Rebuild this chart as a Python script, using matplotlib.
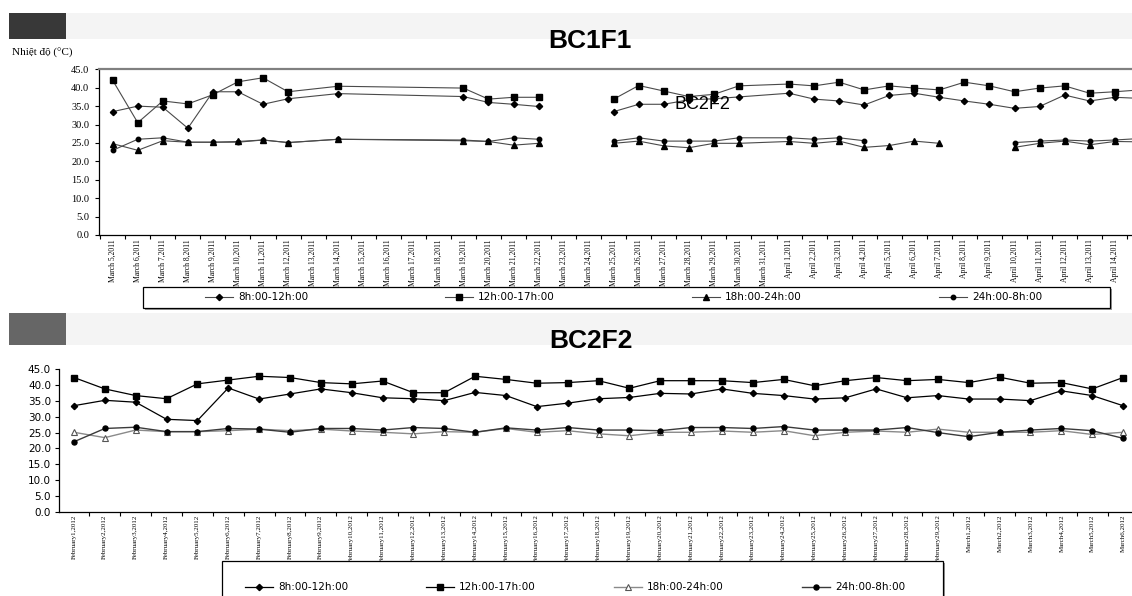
import matplotlib
matplotlib.use("Agg")
import matplotlib.pyplot as plt
import numpy as np
import pandas as pd
from matplotlib.patches import Rectangle
from matplotlib.ticker import FixedLocator, NullFormatter, FixedFormatter

# ---------------- data ----------------
top_title = "BC1F1"
bottom_title = "BC2F2"
y_label = "Nhiệt độ (°C)"
stray_text = "BC2F2"
series_names = ["8h:00-12h:00", "12h:00-17h:00", "18h:00-24h:00", "24h:00-8h:00"]

# top chart: axis covers every day, data rows only on these dates (None = blank cell)
top_axis_start, top_axis_end = "2011-03-05", "2011-04-15"
top_rows = ["2011-03-05", "2011-03-06", "2011-03-07", "2011-03-08", "2011-03-09",
            "2011-03-10", "2011-03-11", "2011-03-12", "2011-03-14", "2011-03-19",
            "2011-03-20", "2011-03-21", "2011-03-22", "2011-03-23", "2011-03-24",
            "2011-03-25", "2011-03-26", "2011-03-27", "2011-03-28", "2011-03-29",
            "2011-03-30", "2011-04-01", "2011-04-02", "2011-04-03", "2011-04-04",
            "2011-04-05", "2011-04-06", "2011-04-07", "2011-04-08", "2011-04-09",
            "2011-04-10", "2011-04-11", "2011-04-12", "2011-04-13", "2011-04-14",
            "2011-04-15"]
top_8_12 = [33.5, 35.0, 34.7, 29.0, 38.9, 38.9, 35.5, 37.0, 38.4, 37.6, 36.0, 35.5, 34.9,
            None, None, 33.5, 35.5, 35.5, 36.7, 37.0, 37.5,
            38.5, 36.9, 36.4, 35.3, 37.9, 38.5, 37.4, 36.4, 35.5, 34.4, 34.9, 38.0, 36.4, 37.4, 37.1]
top_12_17 = [42.0, 30.5, 36.4, 35.6, 38.1, 41.6, 42.7, 38.9, 40.4, 39.9, 36.9, 37.4, 37.4,
             None, None, 36.9, 40.6, 39.1, 37.6, 38.2, 40.5,
             41.0, 40.5, 41.5, 39.4, 40.5, 39.9, 39.4, 41.5, 40.5, 38.9, 39.9, 40.5, 38.5, 38.9, 39.4]
top_18_24 = [24.8, 23.0, 25.6, 25.2, 25.2, 25.4, 25.8, 25.1, 26.0, 25.6, 25.4, 24.4, 24.9,
             None, None, 24.9, 25.5, 24.2, 23.7, 24.9, 24.9,
             25.4, 24.9, 25.5, 23.8, 24.3, 25.5, 24.9, None, None, 23.8, 24.9, 25.5, 24.5, 25.4, 25.3]
top_24_8 = [23.0, 26.0, 26.4, 25.2, 25.2, 25.2, 25.8, 25.1, 26.0, 25.8, 25.4, 26.4, 26.0,
            None, None, 25.5, 26.4, 25.5, 25.5, 25.5, 26.4,
            26.4, 26.0, 26.4, 25.6, None, None, None, None, None, 25.1, 25.5, 25.8, 25.5, 25.8, 26.2]

# bottom chart: one row per day
bottom_start, bottom_end = "2012-02-01", "2012-03-06"
bot_8_12 = [33.5, 35.2, 34.6, 29.2, 28.8, 39.1, 35.6, 37.2, 38.8, 37.6, 36.0, 35.7,
            35.1, 37.7, 36.7, 33.2, 34.3, 35.7, 36.1, 37.4, 37.2, 38.8, 37.4,
            36.7, 35.6, 36.0, 38.8, 36.0, 36.7,
            35.6, 35.6, 35.1, 38.2, 36.7, 33.5]
bot_12_17 = [42.4, 38.8, 36.7, 35.7, 40.4, 41.6, 42.8, 42.4, 40.8, 40.4, 41.3, 37.6,
             37.6, 42.8, 41.8, 40.6, 40.8, 41.4, 39.0, 41.4, 41.4, 41.4, 40.8,
             41.8, 39.8, 41.4, 42.4, 41.4, 41.8,
             40.8, 42.5, 40.6, 40.8, 38.8, 42.4]
bot_18_24 = [25.1, 23.4, 25.8, 25.3, 25.3, 25.6, 26.1, 25.6, 26.1, 25.5, 25.1, 24.6,
             25.3, 25.1, 26.3, 25.1, 25.6, 24.6, 24.0, 25.1, 25.1, 25.5, 25.1,
             25.6, 24.0, 25.1, 25.5, 25.1, 26.1,
             25.1, 25.1, 25.1, 25.6, 24.4, 25.1]
bot_24_8 = [22.1, 26.3, 26.7, 25.3, 25.3, 26.3, 26.1, 25.1, 26.3, 26.3, 25.8, 26.6,
            26.3, 25.1, 26.5, 25.8, 26.6, 25.8, 25.8, 25.6, 26.6, 26.6, 26.3,
            26.9, 25.8, 25.8, 25.8, 26.6, 25.0,
            23.7, 25.1, 25.8, 26.3, 25.6, 23.2]

y_ticks = [0, 5, 10, 15, 20, 25, 30, 35, 40, 45]

# ---------------- layout helpers ----------------
W, H, DPI = 1132, 596, 100
fig = plt.figure(figsize=(W / DPI, H / DPI), dpi=DPI, facecolor="white")


def fx(px):
    return px / W


def fy(py):
    return 1 - py / H


def prect(x0, y0, x1, y1, **kw):
    fig.patches.append(Rectangle((fx(x0), fy(y1)), fx(x1) - fx(x0), fy(y0) - fy(y1),
                                 transform=fig.transFigure, figure=fig, **kw))


def arr(v):
    return np.array([np.nan if x is None else x for x in v], dtype=float)


SERIF = "Liberation Serif"
SANS = "Liberation Sans"

# header bands
prect(66, 13, W, 39, facecolor="#f4f4f4", edgecolor="none", zorder=0)
prect(9, 13, 66, 39, facecolor="#383838", edgecolor="none", zorder=1)
prect(66, 313, W, 345, facecolor="#f4f4f4", edgecolor="none", zorder=0)
prect(9, 313, 66, 345, facecolor="#666666", edgecolor="none", zorder=1)

fig.text(fx(590), fy(41), top_title, ha="center", va="center", fontsize=19,
         fontweight="bold", family=SANS)
fig.text(fx(591), fy(341), bottom_title, ha="center", va="center", fontsize=19,
         fontweight="bold", family=SANS)
fig.text(fx(12), fy(53), y_label, ha="left", va="center", fontsize=8, family=SERIF)

# ---------------- top chart ----------------
axt = fig.add_axes([fx(99), fy(235), fx(1132) - fx(99), fy(69.3) - fy(235)])
days_top = pd.date_range(top_axis_start, top_axis_end)
xrow = (pd.to_datetime(top_rows) - pd.Timestamp(top_axis_start)).days.values
lc = "#4a4a4a"
axt.plot(xrow, arr(top_8_12), color=lc, lw=0.8, marker="D", ms=3.2, mfc="black",
         mec="black", label=series_names[0])
axt.plot(xrow, arr(top_12_17), color=lc, lw=0.8, marker="s", ms=4.3, mfc="black",
         mec="black", label=series_names[1])
axt.plot(xrow, arr(top_18_24), color=lc, lw=0.8, marker="^", ms=4.6, mfc="black",
         mec="black", label=series_names[2])
axt.plot(xrow, arr(top_24_8), color=lc, lw=0.8, marker="o", ms=3.2, mfc="black",
         mec="black", label=series_names[3])
axt.text(23.55, 35.5, stray_text, fontsize=13, family=SANS, ha="center", va="center")

axt.set_ylim(0, 45)
axt.set_xlim(-0.547, 40.69)
axt.set_yticks(y_ticks)
axt.set_yticklabels([f"{v:.1f}" for v in y_ticks], family=SERIF, fontsize=7.5)
axt.tick_params(axis="y", length=3, width=0.8, pad=4, direction="out")
n_top = len(days_top)
axt.xaxis.set_major_locator(FixedLocator(np.arange(n_top + 1) - 0.5))
axt.xaxis.set_major_formatter(NullFormatter())
axt.xaxis.set_minor_locator(FixedLocator(np.arange(n_top)))
top_labels = [f"{d.strftime('%B')} {d.day},{d.year}" for d in days_top]
axt.xaxis.set_minor_formatter(FixedFormatter(top_labels))
axt.tick_params(axis="x", which="major", length=3, width=0.8, direction="out")
axt.tick_params(axis="x", which="minor", length=0, pad=3, labelsize=5.5, rotation=90)
for lab in axt.get_xticklabels(minor=True):
    lab.set_family(SERIF)
axt.spines["right"].set_visible(False)
axt.spines["top"].set_color("#808080")
axt.spines["top"].set_linewidth(1.6)
axt.spines["left"].set_linewidth(0.9)
axt.spines["bottom"].set_linewidth(0.9)

# top legend box
prect(145, 289, 1112, 310, facecolor="#9a9a9a", edgecolor="none", zorder=1)
prect(143, 287, 1110, 308, facecolor="white", edgecolor="black", lw=0.9, zorder=2)
h, l = axt.get_legend_handles_labels()
leg = fig.legend(h, l, loc="center left", bbox_to_anchor=(fx(205), fy(297.5), fx(1042) - fx(205), 0.0),
                 mode="expand", ncol=4, frameon=False, borderaxespad=0, borderpad=0,
                 handlelength=2.7, handletextpad=0.45,
                 prop={"family": "DejaVu Sans", "size": 7.5})
leg.set_zorder(3)

# ---------------- bottom chart ----------------
axb = fig.add_axes([fx(59.3), fy(511.7), fx(1132) - fx(59.3), fy(369.3) - fy(511.7)])
days_bot = pd.date_range(bottom_start, bottom_end)
xb = np.arange(len(days_bot))
axb.plot(xb, bot_8_12, color="black", lw=0.9, marker="D", ms=3.2, mfc="black",
         mec="black", label=series_names[0])
axb.plot(xb, bot_12_17, color="black", lw=0.9, marker="s", ms=4.6, mfc="black",
         mec="black", label=series_names[1])
axb.plot(xb, bot_18_24, color="#8a8a8a", lw=1.0, marker="^", ms=4.6, mfc="white",
         mec="#555555", mew=0.8, label=series_names[2])
axb.plot(xb, bot_24_8, color="#3a3a3a", lw=1.0, marker="o", ms=3.6, mfc="black",
         mec="black", label=series_names[3])

axb.set_ylim(0, 45)
axb.set_xlim(-0.476, 34.29)
axb.set_yticks(y_ticks)
axb.set_yticklabels([f"{v:.1f}" for v in y_ticks], family="DejaVu Sans", fontsize=7.5)
axb.tick_params(axis="y", length=3, width=0.8, pad=3, direction="out")
n_bot = len(days_bot)
axb.xaxis.set_major_locator(FixedLocator(np.arange(n_bot + 1) - 0.5))
axb.xaxis.set_major_formatter(NullFormatter())
axb.xaxis.set_minor_locator(FixedLocator(np.arange(n_bot)))
bot_labels = [f"{d.strftime('%B')}{d.day},{d.year}" for d in days_bot]
axb.xaxis.set_minor_formatter(FixedFormatter(bot_labels))
axb.tick_params(axis="x", which="major", length=3, width=0.8, direction="out")
axb.tick_params(axis="x", which="minor", length=0, pad=2, labelsize=5, rotation=90)
for lab in axb.get_xticklabels(minor=True):
    lab.set_family(SERIF)
axb.spines["right"].set_visible(False)
axb.spines["top"].set_visible(False)
axb.spines["left"].set_linewidth(0.9)
axb.spines["bottom"].set_linewidth(0.9)

# bottom legend box
prect(224, 563, 945, 599, facecolor="#9a9a9a", edgecolor="none", zorder=1)
prect(222, 561, 943, 597, facecolor="white", edgecolor="black", lw=0.9, zorder=2)
h2, l2 = axb.get_legend_handles_labels()
leg2 = fig.legend(h2, l2, loc="center left", bbox_to_anchor=(fx(245), fy(587.5), fx(905) - fx(245), 0.0),
                  mode="expand", ncol=4, frameon=False, borderaxespad=0, borderpad=0,
                  handlelength=2.7, handletextpad=0.45,
                  prop={"family": "DejaVu Sans", "size": 7.5})
leg2.set_zorder(3)

fig.savefig("out.png", dpi=DPI, facecolor="white")
